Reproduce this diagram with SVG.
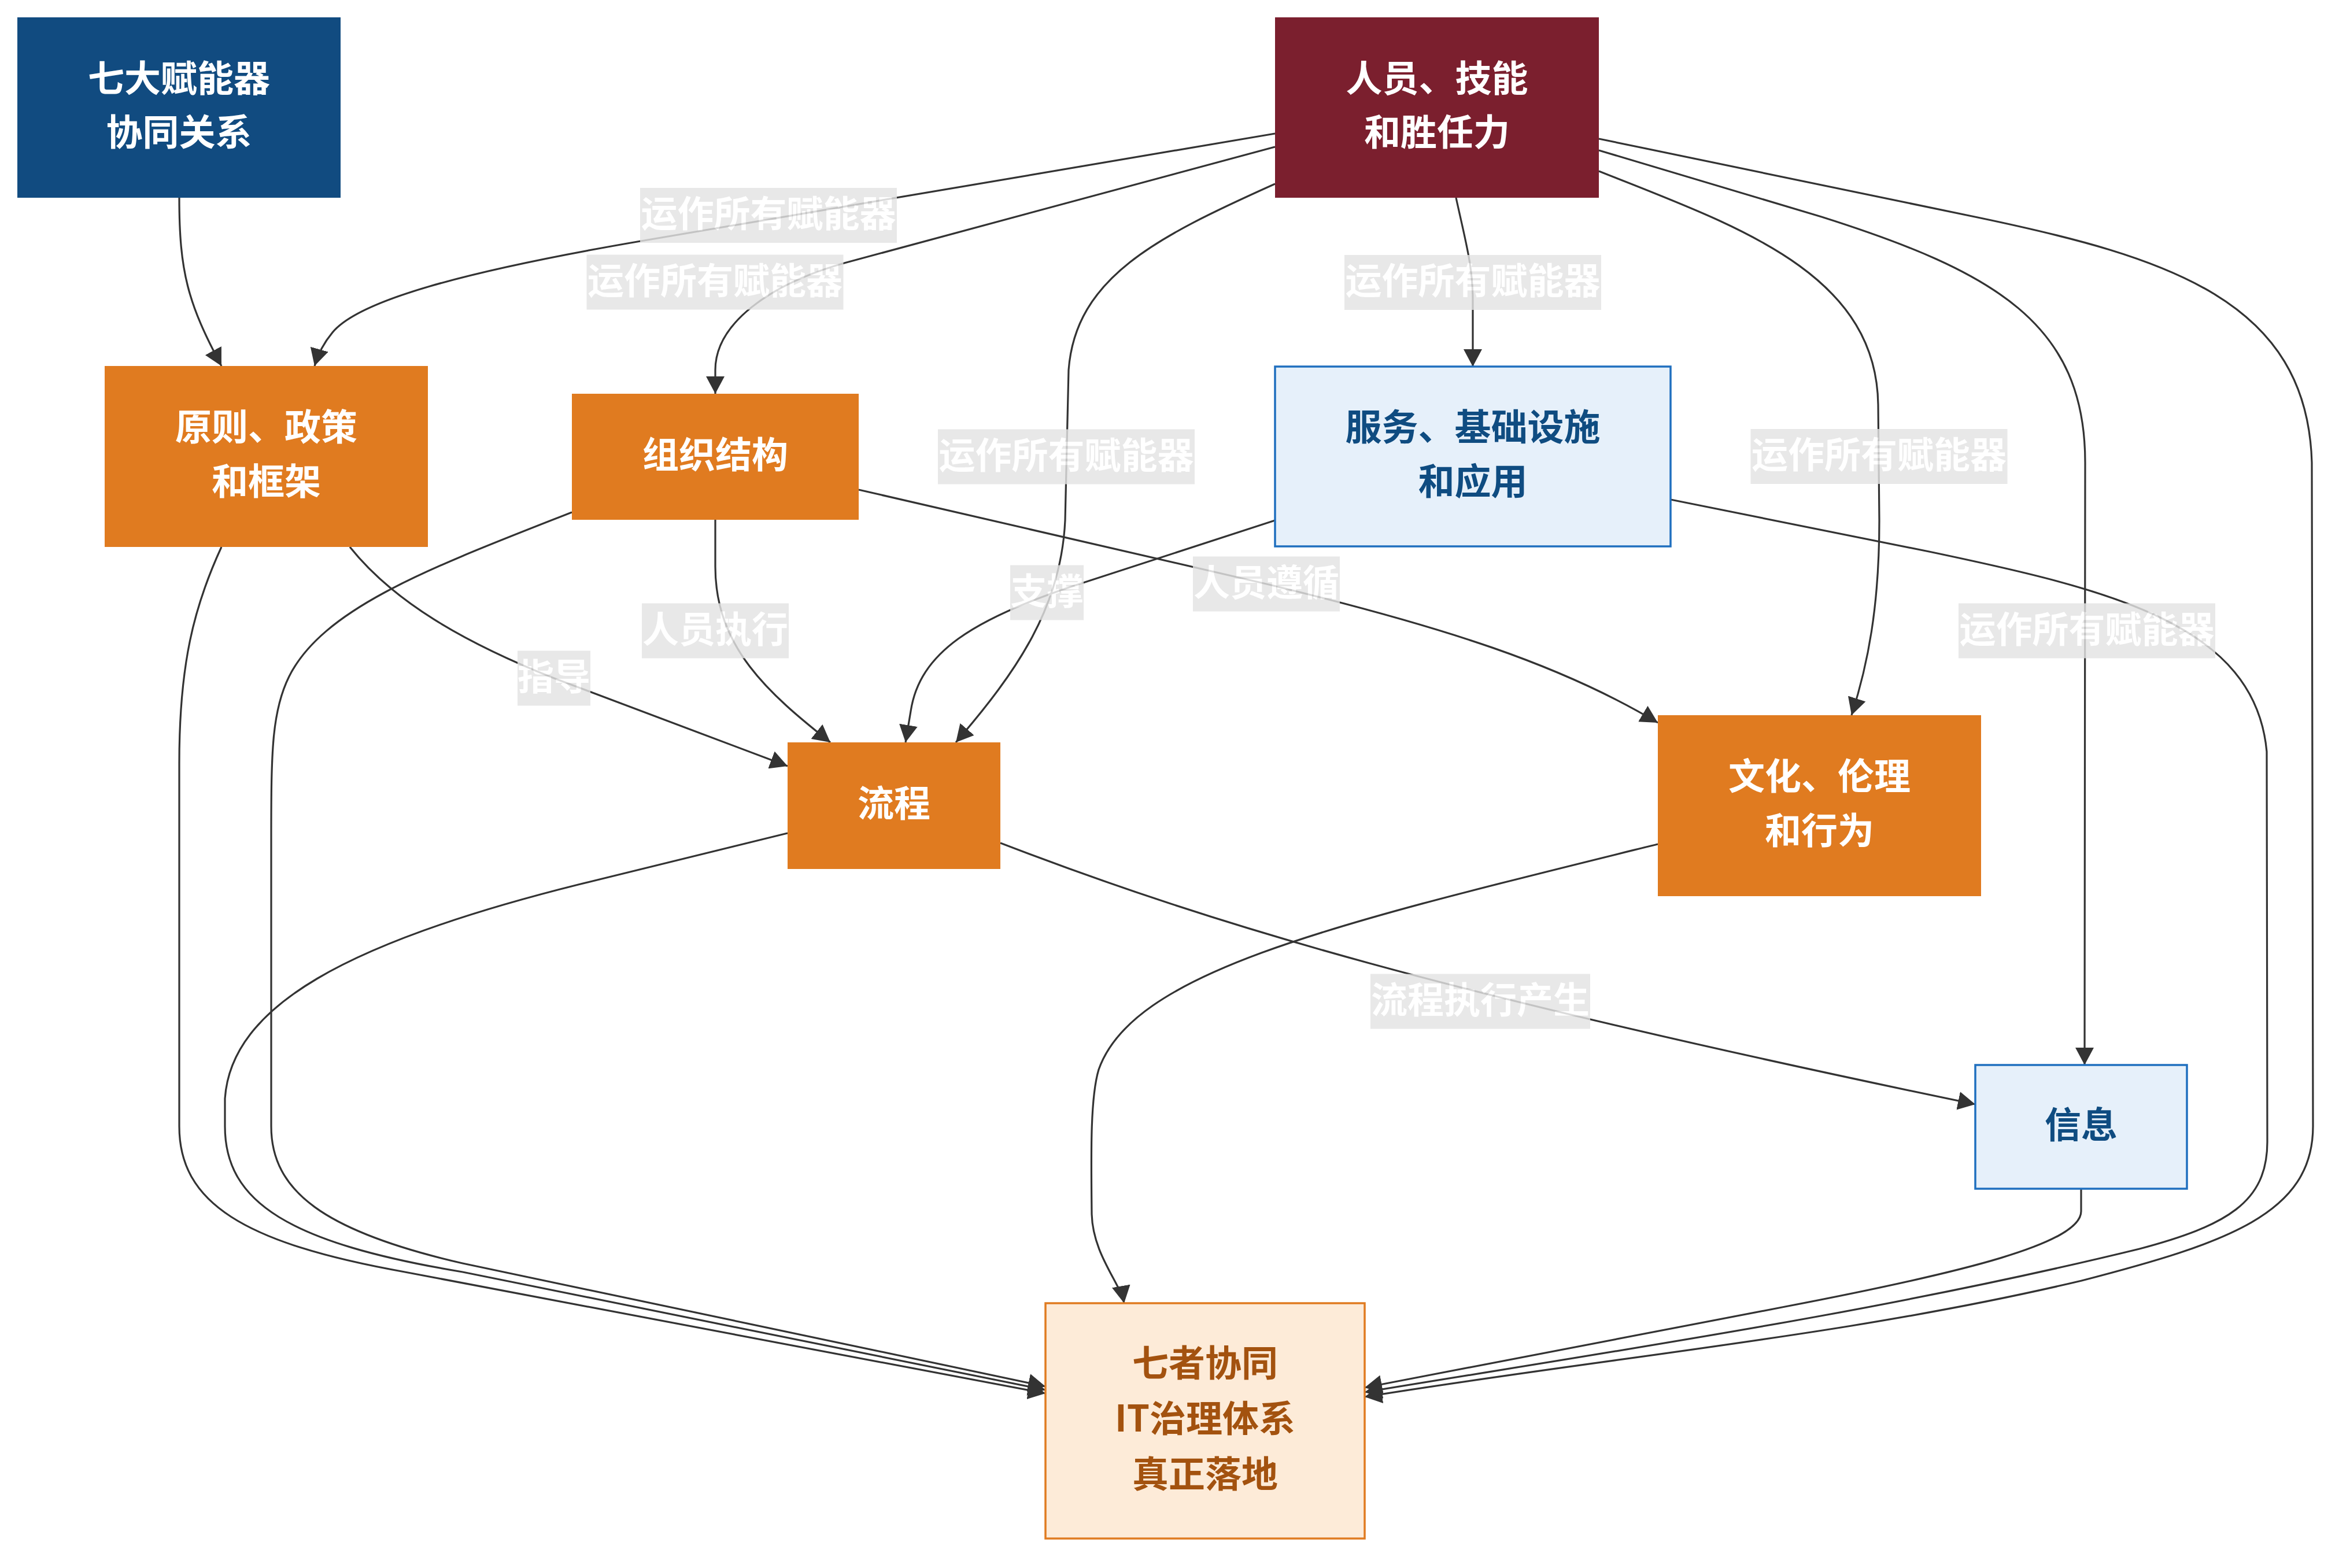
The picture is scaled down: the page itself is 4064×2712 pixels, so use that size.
<svg xmlns="http://www.w3.org/2000/svg" width="4064" height="2712" viewBox="0 0 4064 2712">
<style>
.edge{fill:none;stroke:#333;stroke-width:3.2;marker-end:url(#arrow)}
.lbl{opacity:0.82}
.lbl rect{fill:#e3e3e3}
.lbl text{fill:#fff}
text{font-family:"Noto Sans CJK SC","Noto Sans",sans-serif;font-weight:700;font-size:63px;text-anchor:middle;dominant-baseline:central;transform:translateY(-8px)}
.wt{fill:#fff}
.bt{fill:#0f4c81}
.ft{fill:#a3520f}
.orange{fill:#e07b20}
.light{fill:#e6f0fa;stroke:#1f6fbf;stroke-width:3.5}
</style>
<defs>
<marker id="arrow" markerUnits="userSpaceOnUse" markerWidth="30" markerHeight="32" viewBox="0 0 30 32" refX="30" refY="16" orient="auto"><path d="M0,0 L30,16 L0,32 z" fill="#333"/></marker>
</defs>
<rect width="4064" height="2712" fill="#fff"/>
<g id="edges">
<path class="edge" d="M310,342 C310,470 325,525 383,633"/>
<path class="edge" d="M2205,231 L1108,417 C800,470 620,520 575,575 C560,593 550,612 544,633"/>
<path class="edge" d="M2205,254 L1460,455 C1330,492 1237,560 1237,640 L1237,681"/>
<path class="edge" d="M2518,342 C2535,420 2547,460 2547,520 L2547,634"/>
<path class="edge" d="M2205,318 C2000,410 1860,480 1848,640 L1842,900 C1835,1050 1760,1160 1653,1284"/>
<path class="edge" d="M2765,296 C3000,390 3245,470 3248,700 L3250,900 C3250,1050 3230,1150 3202,1237"/>
<path class="edge" d="M2765,260 L3150,375 C3450,470 3606,560 3606,800 L3605,1842"/>
<path class="edge" d="M2765,240 L3420,376 C3750,445 3990,520 3998,800 L4000,1948 C4000,2100 3850,2150 3600,2215 C3200,2310 2800,2345 2360,2416"/>
<path class="edge" d="M2889,864 L3336,954 C3650,1020 3900,1080 3920,1300 L3921,1975 C3921,2080 3850,2120 3700,2160 C3250,2270 2800,2335 2360,2408"/>
<path class="edge" d="M605,946 C680,1040 800,1110 958,1173 L1362,1325"/>
<path class="edge" d="M383,946 C335,1050 310,1150 310,1320 L310,1948 C310,2080 420,2150 700,2200 L1808,2410"/>
<path class="edge" d="M1237,899 L1237,980 C1237,1120 1330,1200 1436,1284"/>
<path class="edge" d="M1485,847 L2190,1010 C2500,1085 2700,1150 2867,1250"/>
<path class="edge" d="M989,886 C750,980 560,1050 500,1170 C470,1230 469,1300 469,1450 L469,1948 C469,2060 560,2130 800,2185 L1808,2398"/>
<path class="edge" d="M1730,1458 C2100,1600 2500,1720 3416,1910"/>
<path class="edge" d="M1362,1441 L1000,1530 C600,1630 400,1740 389,1900 L389,1948 C389,2080 500,2150 800,2200 L1808,2404"/>
<path class="edge" d="M2867,1460 C2300,1600 1960,1680 1900,1850 C1885,1900 1887,2000 1888,2100 C1890,2170 1938,2220 1944,2254"/>
<path class="edge" d="M3599,2056 L3599,2095 C3599,2150 3400,2200 3087,2260 L2360,2400"/>
<path class="edge" d="M2205,900 L1873,1008 C1680,1070 1590,1130 1575,1230 L1566,1284"/>
<g class="lbl"><rect x="1107" y="325" width="444" height="95"/><text x="1329" y="372.5">运作所有赋能器</text></g>
<g class="lbl"><rect x="1014.5" y="440.5" width="444" height="95"/><text x="1236.5" y="488">运作所有赋能器</text></g>
<g class="lbl"><rect x="2325" y="441" width="444" height="95"/><text x="2547" y="488.5">运作所有赋能器</text></g>
<g class="lbl"><rect x="1622" y="742.5" width="444" height="95"/><text x="1844" y="790">运作所有赋能器</text></g>
<g class="lbl"><rect x="3027.5" y="742" width="444" height="95"/><text x="3249.5" y="789.5">运作所有赋能器</text></g>
<g class="lbl"><rect x="3387" y="1043.5" width="444" height="95"/><text x="3609" y="1091">运作所有赋能器</text></g>
<g class="lbl"><rect x="895" y="1125.5" width="126" height="95"/><text x="958" y="1173">指导</text></g>
<g class="lbl"><rect x="1110" y="1043.5" width="254" height="95"/><text x="1237" y="1091">人员执行</text></g>
<g class="lbl"><rect x="2063" y="962.5" width="254" height="95"/><text x="2190" y="1010">人员遵循</text></g>
<g class="lbl"><rect x="2370" y="1684.5" width="380" height="95"/><text x="2560" y="1732">流程执行产生</text></g>
<g class="lbl"><rect x="1747" y="977.5" width="127" height="95"/><text x="1810.5" y="1025">支撑</text></g>
</g>
<g id="n-title"><rect x="30" y="30" width="559" height="312" fill="#114b80"/><text class="wt" x="309.5" y="138">七大赋能器</text><text class="wt" x="309.5" y="231">协同关系</text></g>
<g id="n-people"><rect x="2205" y="30" width="560" height="312" fill="#7b1f2e"/><text class="wt" x="2485" y="138">人员、技能</text><text class="wt" x="2485" y="231">和胜任力</text></g>
<g id="n-principle"><rect class="orange" x="181" y="633" width="559" height="313"/><text class="wt" x="460.5" y="741">原则、政策</text><text class="wt" x="460.5" y="835">和框架</text></g>
<g id="n-org"><rect class="orange" x="989" y="681" width="496" height="218"/><text class="wt" x="1237" y="789">组织结构</text></g>
<g id="n-services"><rect class="light" x="2205" y="634" width="684" height="311"/><text class="bt" x="2547" y="741">服务、基础设施</text><text class="bt" x="2547" y="835">和应用</text></g>
<g id="n-process"><rect class="orange" x="1362" y="1284" width="368" height="219"/><text class="wt" x="1546" y="1392">流程</text></g>
<g id="n-culture"><rect class="orange" x="2867" y="1237" width="559" height="313"/><text class="wt" x="3146.5" y="1345">文化、伦理</text><text class="wt" x="3146.5" y="1439">和行为</text></g>
<g id="n-info"><rect class="light" x="3416" y="1842" width="366" height="214"/><text class="bt" x="3599" y="1948">信息</text></g>
<g id="n-final"><rect x="1808" y="2254" width="552" height="407" fill="#fdebd8" stroke="#e07b20" stroke-width="3.5"/><text class="ft" x="2084" y="2360">七者协同</text><text class="ft" x="2084" y="2456">IT治理体系</text><text class="ft" x="2084" y="2552">真正落地</text></g>
</svg>
